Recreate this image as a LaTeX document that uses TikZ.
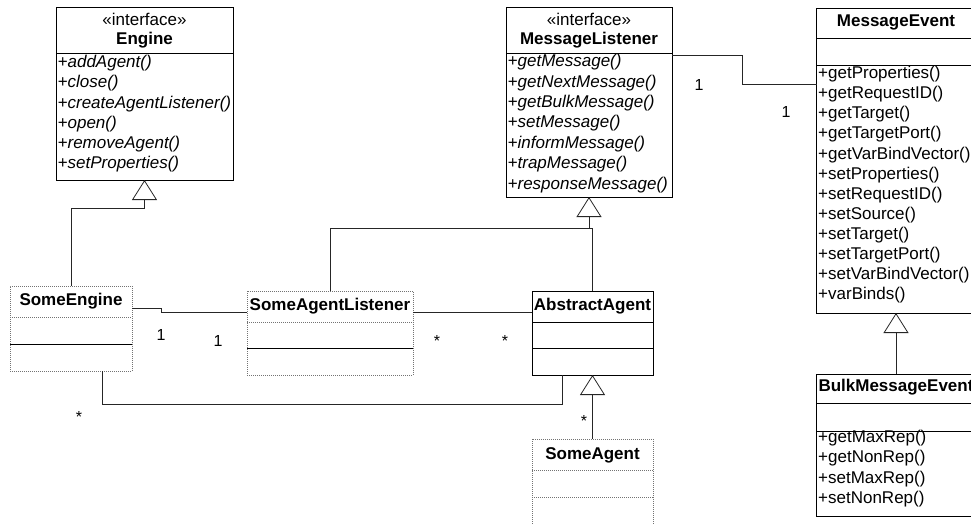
\documentclass[tikz,border=0pt]{standalone}
\usepackage{fontspec}
\setmainfont{Liberation Sans}
\usetikzlibrary{arrows.meta}
\begin{document}
\begin{tikzpicture}[x=1pt,y=-1pt,
  cls/.style={draw=black, line width=0.8pt, rectangle, inner sep=0pt, outer sep=0pt, anchor=north west},
  dcls/.style={draw=black!55, dash pattern=on 1pt off 1pt, line width=0.8pt, rectangle, inner sep=0pt, outer sep=0pt, anchor=north west},
  sep/.style={line width=0.8pt, black},
  dsep/.style={line width=0.8pt, black!55, dash pattern=on 1pt off 1pt},
  title/.style={font=\fontsize{17}{20}\selectfont\bfseries, inner sep=0pt},
  stereo/.style={font=\fontsize{17}{20}\selectfont, inner sep=0pt},
  item/.style={font=\fontsize{17}{20}\selectfont, inner sep=0pt, anchor=mid west},
  iitem/.style={inner sep=0pt, anchor=mid west, font=\fontsize{17}{20}\selectfont\itshape},
  lbl/.style={font=\fontsize{16}{20}\selectfont, inner sep=0pt},
  conn/.style={line width=0.8pt, black!85},
  gen/.style={conn, -{Triangle[open, length=20pt, width=25pt, line width=0.8pt]}},
]
\useasboundingbox (0,0) rectangle (971,523);
\clip (0,0) rectangle (971,523);

% ---------- Engine ----------
\node[cls, minimum width=177pt, minimum height=173pt] (engine) at (56,7) {};
\draw[sep] (56,53) -- (233,53);
\node[stereo] (engst) at (144.5,19) {«interface»};
\node[title] (engti) at (144.5,40) {Engine};
\foreach [count=\i] \t in {+addAgent(),+close(),+createAgentListener(),+open(),+removeAgent(),+setProperties()}
  \node[iitem] (eng\i) at (57.5,{65+20.2*(\i-1)}) {\t};

% ---------- MessageListener ----------
\node[cls, minimum width=166pt, minimum height=190pt] (messagelistener) at (506,7) {};
\draw[sep] (506,53) -- (672,53);
\node[stereo] (mlst) at (589,19) {«interface»};
\node[title] (mlti) at (589,40) {MessageListener};
\foreach [count=\i] \t in {+getMessage(),+getNextMessage(),+getBulkMessage(),+setMessage(),+informMessage(),+trapMessage(),+responseMessage()}
  \node[iitem] (ml\i) at (507.5,{64+20.4*(\i-1)}) {\t};

% ---------- MessageEvent ----------
\node[cls, minimum width=159pt, minimum height=305pt] (messageevent) at (816.5,8) {};
\draw[sep] (816.5,38) -- (975.5,38);
\draw[sep] (816.5,65) -- (975.5,65);
\node[title] (meti) at (896,22) {MessageEvent};
\foreach [count=\i] \t in {+getProperties(),+getRequestID(),+getTarget(),+getTargetPort(),+getVarBindVector(),+setProperties(),+setRequestID(),+setSource(),+setTarget(),+setTargetPort(),+setVarBindVector(),+varBinds()}
  \node[item] (me\i) at (818,{76+20.1*(\i-1)}) {\t};

% ---------- BulkMessageEvent ----------
\node[cls, minimum width=159pt, minimum height=142pt] (bulkmessageevent) at (816.5,374) {};
\draw[sep] (816.5,403) -- (975.5,403);
\draw[sep] (816.5,431) -- (975.5,431);
\node[title] (bmti) at (896,387) {BulkMessageEvent};
\foreach [count=\i] \t in {+getMaxRep(),+getNonRep(),+setMaxRep(),+setNonRep()}
  \node[item] (bm\i) at (818,{440+20.3*(\i-1)}) {\t};

% ---------- SomeEngine ----------
\node[dcls, minimum width=122pt, minimum height=85pt] (someengine) at (10,286) {};
\draw[dsep] (10,317) -- (132,317);
\draw[sep] (10,344) -- (132,344);
\node[title] (seti) at (71,301) {SomeEngine};

% ---------- SomeAgentListener ----------
\node[dcls, minimum width=166pt, minimum height=84pt] (someagentlistener) at (247,291) {};
\draw[dsep] (247,322) -- (413,322);
\draw[sep] (247,348) -- (413,348);
\node[title] (salti) at (330,306) {SomeAgentListener};

% ---------- AbstractAgent ----------
\node[cls, minimum width=121pt, minimum height=84pt] (abstractagent) at (532,291) {};
\draw[sep] (532,322) -- (653,322);
\draw[sep] (532,348) -- (653,348);
\node[title] (aati) at (592.5,306) {AbstractAgent};

% ---------- SomeAgent ----------
\node[dcls, minimum width=121pt, minimum height=100pt] (someagent) at (532,439) {};
\draw[dsep] (532,470) -- (653,470);
\draw[dsep] (532,497) -- (653,497);
\node[title] (sati) at (592.5,455) {SomeAgent};

% ---------- Generalizations ----------
\draw[gen] (someengine.north) |- (engine.south |- 0,208) -- (engine.south);
\draw[gen] (someagentlistener.north) |- (messagelistener.south |- 0,228) -- (messagelistener.south);
\draw[conn] (abstractagent.north) |- (messagelistener.south |- 0,228);
\draw[gen] (someagent.north) -- (abstractagent.south);
\draw[gen] (bulkmessageevent.north) -- (messageevent.south);

% ---------- Associations ----------
\draw[conn] ([yshift=-22pt]someengine.north east) -- ++(29,0) -- ++(0,4) -- ([yshift=-21pt]someagentlistener.north west);
\draw[conn] ([yshift=-21pt]someagentlistener.north east) -- ([yshift=-21pt]abstractagent.north west);
\draw[conn] ([xshift=31pt]someengine.south) -- ++(0,33) -| ([xshift=-30.5pt]abstractagent.south);
\draw[conn] ([yshift=-48pt]messagelistener.north east) -- ++(70,0) |- ([yshift=-76pt]messageevent.north west);

% ---------- Multiplicities ----------
\node[lbl] (m1) at (161,335) {1};
\node[lbl] (m2) at (218,341) {1};
\node[lbl] (m3) at (437,341) {*};
\node[lbl] (m4) at (505,341) {*};
\node[lbl] (m5) at (79,417) {*};
\node[lbl] (m6) at (584,421) {*};
\node[lbl] (m7) at (699,85) {1};
\node[lbl] (m8) at (786,112) {1};
\end{tikzpicture}
\end{document}
